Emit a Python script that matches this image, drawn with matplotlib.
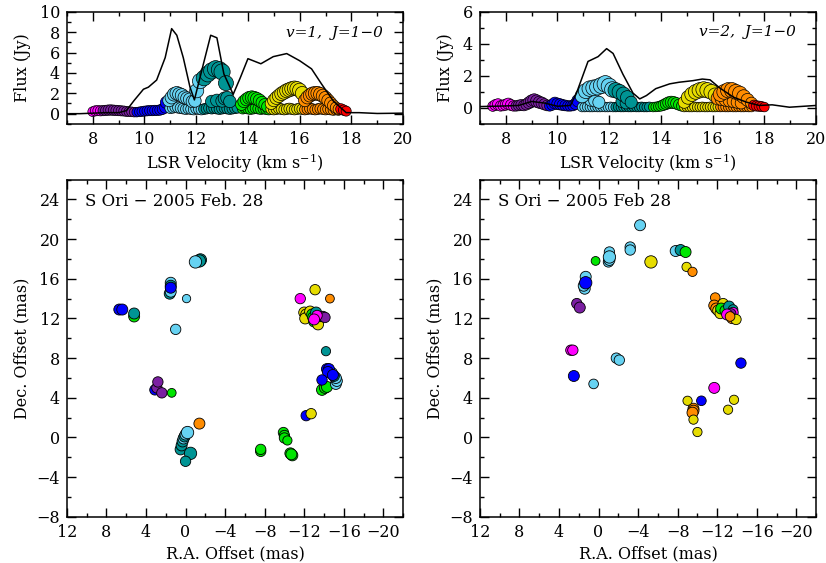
import numpy as np
import matplotlib
matplotlib.use('Agg')
import matplotlib.pyplot as plt
from matplotlib.ticker import MultipleLocator

plt.rcParams['font.family'] = ['DejaVu Serif']
plt.rcParams['mathtext.fontset'] = 'dejavuserif'

# velocity colour groups: magenta, purple, blue, light blue, teal, green, yellow, orange, red
colours = ['#ff00ff', '#7b1fa2', '#0000ff', '#66d2f2', '#009494',
           '#00e600', '#e6dc00', '#ff8c00', '#ff0000']

# total flux spectra (black lines)
v1_line_vel = [7.0, 7.5, 8.0, 8.5, 9.0, 9.3, 9.6, 9.96, 10.15, 10.47, 10.8, 11.05, 11.25,
               11.5, 11.76, 11.93, 12.28, 12.56, 12.8, 13.07, 13.43, 13.7, 14.0, 14.5,
               14.98, 15.5, 16.0, 16.46, 16.85, 17.3, 17.8, 18.3, 19.0, 20.0]
v1_line_flux = [0.0, 0.0, 0.05, 0.1, 0.1, 0.3, 1.3, 2.4, 2.6, 3.3, 5.5, 8.35, 7.7,
                5.5, 2.6, 1.35, 4.9, 7.7, 7.45, 3.9, 1.9, 3.5, 5.4, 4.9,
                5.6, 5.9, 5.2, 4.4, 2.9, 1.25, 0.1, 0.1, 0.02, 0.05]

v2_line_vel = [7.0, 7.5, 8.0, 8.5, 9.0, 9.5, 10.0, 10.5, 10.73, 11.18, 11.57, 11.9, 12.15,
               12.53, 12.92, 13.18, 13.44, 13.8, 14.34, 14.7, 15.24, 15.6, 15.9, 16.27,
               16.8, 17.3, 17.8, 18.3, 18.97, 20.0]
v2_line_flux = [0.08, 0.1, 0.12, 0.15, 0.4, 0.3, 0.1, 0.15, 0.9, 2.9, 3.2, 3.7, 3.4,
                2.1, 0.92, 0.56, 0.77, 1.2, 1.5, 1.6, 1.7, 1.8, 1.75, 1.25,
                0.67, 0.36, 0.15, 0.19, 0.04, 0.15]

# maser spots in the spectra: velocity, flux, colour group
v1_vel = ([8.0, 8.1, 8.2, 8.3] +
          [8.4, 8.5, 8.6, 8.7, 8.8, 8.9, 9.0, 9.1, 9.2, 9.3, 9.4, 9.5, 9.6] +
          [9.7, 9.8, 9.9, 10.0, 10.1, 10.2, 10.3, 10.4, 10.5, 10.6, 10.7, 10.8, 10.85] +
          [11.0, 11.1, 11.2, 11.3, 11.4, 11.5, 11.6, 11.7, 11.8, 11.9, 12.0, 12.1, 12.2] +
          [10.95, 11.05, 11.15, 11.25, 11.35, 11.45, 11.55, 11.65, 11.75, 11.85, 11.95, 12.02, 12.15] +
          [12.3, 12.4, 12.5, 12.6, 12.7, 12.8, 12.9, 13.0, 13.1, 13.2, 13.3, 13.4, 13.5, 13.6] +
          [12.6, 12.8, 13.0, 13.1, 13.2, 13.3] +
          [12.3, 12.45, 12.6, 12.75, 12.9, 13.0, 13.15] +
          [13.8, 13.9, 14.0, 14.1, 14.2, 14.3, 14.4, 14.5, 14.6, 14.7, 14.8] +
          [13.75, 13.85, 13.95, 14.05, 14.15, 14.25, 14.35, 14.45, 14.55, 14.65, 14.75] +
          [14.9, 15.0, 15.1, 15.2, 15.3, 15.4, 15.5, 15.6, 15.7, 15.8, 15.9, 16.0, 16.1] +
          [14.9, 15.0, 15.1, 15.2, 15.3, 15.4, 15.5, 15.6, 15.7, 15.8, 15.9, 16.0, 16.1] +
          [16.2, 16.3, 16.4, 16.5, 16.6, 16.7, 16.8, 16.9, 17.0, 17.1, 17.2, 17.3, 17.4, 17.5] +
          [16.2, 16.3, 16.4, 16.5, 16.6, 16.7, 16.8, 16.9, 17.0, 17.1, 17.2, 17.3, 17.4, 17.5] +
          [17.6, 17.7, 17.8])
v1_flux = ([0.20, 0.28, 0.30, 0.28] +
           [0.30, 0.32, 0.35, 0.36, 0.34, 0.32, 0.30, 0.28, 0.26, 0.22, 0.20, 0.18, 0.15] +
           [0.15, 0.18, 0.22, 0.25, 0.28, 0.30, 0.30, 0.32, 0.32, 0.36, 0.45, 0.60, 1.10] +
           [0.55, 0.6, 0.65, 0.6, 0.55, 0.5, 0.45, 0.5, 0.45, 0.4, 0.5, 0.45, 0.4] +
           [1.3, 1.6, 1.9, 2.0, 1.9, 1.8, 1.6, 1.5, 1.4, 1.2, 1.25, 2.25, 3.2] +
           [0.45, 0.5, 0.55, 0.5, 0.55, 0.5, 0.45, 0.5, 0.55, 0.5, 0.45, 0.5, 0.55, 0.6] +
           [1.2, 1.3, 1.25, 1.5, 1.55, 1.2] +
           [3.5, 3.9, 4.2, 4.4, 4.3, 4.1, 3.0] +
           [0.5, 0.55, 0.5, 0.45, 0.5, 0.55, 0.5, 0.45, 0.5, 0.45, 0.4] +
           [0.9, 1.2, 1.4, 1.55, 1.6, 1.55, 1.45, 1.3, 1.1, 0.9, 0.7] +
           [0.45, 0.4, 0.45, 0.5, 0.45, 0.4, 0.45, 0.5, 0.45, 0.4, 0.45, 0.5, 0.45] +
           [1.0, 1.3, 1.55, 1.75, 1.95, 2.1, 2.25, 2.35, 2.45, 2.5, 2.45, 2.3, 2.0] +
           [0.4, 0.45, 0.5, 0.45, 0.4, 0.45, 0.5, 0.45, 0.4, 0.45, 0.4, 0.35, 0.4, 0.35] +
           [1.3, 1.6, 1.8, 1.95, 2.0, 2.0, 1.9, 1.75, 1.55, 1.3, 1.05, 0.8, 0.6, 0.45] +
           [0.45, 0.35, 0.25])
v1_grp = ([0] * 4 + [1] * 13 + [2] * 13 + [3] * 26 + [4] * 27 + [5] * 22 +
          [6] * 26 + [7] * 28 + [8] * 3)

v2_vel = ([7.5, 7.6, 7.7, 7.8, 7.9, 8.0, 8.1, 8.2, 8.3] +
          [8.4, 8.5, 8.6, 8.7, 8.8, 8.9, 9.0, 9.1, 9.2, 9.3, 9.4, 9.5, 9.6] +
          [9.7, 9.8, 9.9, 10.0, 10.1, 10.2, 10.3, 10.4, 10.5, 10.6, 10.7, 10.8] +
          [10.95, 11.05, 11.15, 11.25, 11.35, 11.45, 11.55, 11.65, 11.75, 11.85, 11.95, 12.05, 12.15] +
          [11.3, 11.45, 11.6] +
          [10.95, 11.1, 11.25, 11.4, 11.55, 11.7, 11.85, 12.0, 12.12] +
          [12.25, 12.35, 12.45, 12.55, 12.65, 12.75, 12.85, 12.95, 13.05, 13.15, 13.25, 13.35, 13.45, 13.55] +
          [12.5, 12.65] +
          [12.25, 12.4, 12.55, 12.7, 12.85] +
          [13.7, 13.8, 13.9, 14.0, 14.1, 14.2, 14.3, 14.4, 14.5, 14.6, 14.7, 14.8] +
          [14.9, 15.0, 15.1, 15.2, 15.3, 15.4, 15.5, 15.6, 15.7, 15.8, 15.9, 16.0, 16.1, 16.2] +
          [14.9, 15.05, 15.2, 15.35, 15.5, 15.65, 15.8, 15.95, 16.1] +
          [16.3, 16.4, 16.5, 16.6, 16.7, 16.8, 16.9, 17.0, 17.1, 17.2, 17.3, 17.4, 17.5] +
          [16.2, 16.35, 16.5, 16.65, 16.8, 16.95, 17.1] +
          [16.3, 16.45, 16.6, 16.75, 16.9, 17.05, 17.2, 17.35, 17.5] +
          [17.6, 17.7, 17.8, 17.9, 18.0])
v2_flux = ([0.10, 0.18, 0.22, 0.12, 0.15, 0.20, 0.25, 0.18, 0.12] +
           [0.12, 0.15, 0.18, 0.15, 0.22, 0.32, 0.42, 0.48, 0.42, 0.35, 0.30, 0.22, 0.15] +
           [0.12, 0.20, 0.30, 0.25, 0.22, 0.18, 0.15, 0.12, 0.12, 0.15, 0.25, 0.45] +
           [0.05, 0.05, 0.06, 0.05, 0.05, 0.06, 0.05, 0.05, 0.06, 0.05, 0.05, 0.06, 0.05] +
           [0.5, 0.45, 0.35] +
           [0.75, 1.05, 1.2, 1.25, 1.3, 1.4, 1.5, 1.35, 1.15] +
           [0.05, 0.06, 0.05, 0.05, 0.06, 0.05, 0.05, 0.06, 0.05, 0.05, 0.06, 0.05, 0.05, 0.06] +
           [0.4, 0.3] +
           [1.1, 1.0, 0.85, 0.65, 0.35] +
           [0.05, 0.06, 0.08, 0.12, 0.18, 0.25, 0.32, 0.35, 0.33, 0.28, 0.2, 0.12] +
           [0.05, 0.06, 0.05, 0.05, 0.06, 0.05, 0.05, 0.06, 0.05, 0.05, 0.06, 0.05, 0.05, 0.06] +
           [0.35, 0.65, 0.85, 1.0, 1.1, 1.15, 1.1, 1.0, 0.8] +
           [0.05, 0.06, 0.05, 0.05, 0.06, 0.05, 0.05, 0.06, 0.05, 0.05, 0.06, 0.05, 0.05] +
           [0.6, 0.55, 0.5, 0.45, 0.4, 0.35, 0.3] +
           [0.85, 1.0, 1.1, 1.1, 1.0, 0.9, 0.7, 0.5, 0.3] +
           [0.15, 0.12, 0.1, 0.08, 0.05])
v2_grp = ([0] * 9 + [1] * 13 + [2] * 12 + [3] * 25 + [4] * 21 + [5] * 12 +
          [6] * 23 + [7] * 29 + [8] * 5)

# spot maps: RA offset, Dec offset, colour group, relative flux
v1_ra = [6.7, 6.4, 5.2, 5.2, 1.6, 1.5, 1.5, 1.5, 1.5, -0.1, 1.0, -1.5, -1.4, -1.0,
         3.1, 2.9, 2.8, 2.4, 1.4,
         0.5, 0.4, 0.3, 0.2, 0.1, 0.0, -0.2, -0.5, 0.0, -1.4,
         -7.6, -7.6, -9.9, -10.0, -10.0, -10.3, -10.6, -10.8, -10.7,
         -12.2, -12.7, -11.6, -13.1, -14.6,
         -12.0, -12.2, -12.4, -12.1, -12.6, -12.8, -12.9, -13.2, -13.0, -13.4,
         -13.5, -13.7, -13.9, -14.1, -13.3, -13.0, -14.2,
         -13.8, -14.1, -14.3, -15.2, -15.3, -15.2, -15.0, -14.8, -14.3, -14.5, -14.4, -14.9, -13.8]
v1_dec = [12.9, 12.9, 12.2, 12.5, 14.5, 14.7, 15.6, 15.3, 15.1, 14.0, 10.9, 17.9, 17.8, 17.7,
          4.8, 5.0, 5.6, 4.5, 4.5,
          -1.2, -0.8, -0.4, -0.1, 0.1, 0.3, 0.5, -1.6, -2.4, 1.4,
          -1.4, -1.2, 0.5, 0.2, -0.05, -0.3, -1.6, -1.8, -1.7,
          2.2, 2.4, 14.0, 14.9, 14.0,
          12.6, 12.4, 12.2, 12.0, 12.7, 12.4, 12.1, 12.6, 11.7, 11.4,
          12.2, 12.2, 12.2, 12.1, 12.3, 11.9, 8.7,
          4.8, 5.0, 5.1, 5.4, 5.7, 6.0, 6.2, 6.5, 6.9, 6.9, 6.6, 6.3, 5.8]
v1_mgrp = [2, 2, 5, 4, 4, 3, 3, 4, 2, 3, 3, 4, 4, 3,
           2, 1, 1, 1, 5,
           4, 4, 4, 3, 4, 3, 3, 4, 4, 7,
           5, 5, 5, 5, 5, 5, 5, 5, 5,
           2, 6, 0, 6, 7,
           6, 6, 5, 6, 6, 5, 5, 4, 5, 6,
           1, 1, 1, 1, 0, 0, 4,
           5, 5, 5, 3, 3, 3, 4, 3, 2, 2, 2, 2, 2]
v1_mflux = [1.0, 1.0, 1.0, 1.0, 1.0, 1.0, 1.0, 1.0, 1.0, 0.3, 0.8, 1.5, 1.5, 1.5,
            0.8, 0.8, 0.8, 0.8, 0.4,
            1.0, 1.0, 1.0, 1.0, 1.0, 1.0, 1.5, 1.5, 0.8, 1.0,
            0.8, 0.8, 0.8, 0.8, 0.8, 0.5, 1.0, 1.0, 1.0,
            0.8, 0.8, 0.8, 0.8, 0.4,
            1.0, 1.0, 1.0, 1.0, 1.0, 1.0, 1.0, 1.0, 1.0, 1.0,
            0.8, 0.8, 0.8, 0.8, 0.8, 1.0, 0.5,
            1.0, 1.0, 1.0, 1.0, 1.0, 1.0, 1.0, 1.0, 1.0, 1.0, 1.0, 1.0, 0.8]

v2_ra = [-4.2, -3.2, -3.2, -1.1, -1.0, -1.1, -1.1, 0.3, -5.3, -7.8, -8.3, -8.8, -8.9, -9.5,
         1.3, 1.4, 1.5, 1.3, 2.2, 1.9, 2.8, 2.6, 2.5, 0.5, -1.8, -2.1,
         -9.6, -9.6, -9.5, -9.0, -9.6, -10.0, -10.4, -11.7, -13.1, -13.7, -14.4,
         -11.8, -11.7, -11.9, -12.1, -12.3, -12.6, -12.4, -12.8, -13.2, -13.6, -13.6, -13.4,
         -13.0, -13.5, -13.9, -13.3]
v2_dec = [21.4, 19.2, 18.9, 18.7, 17.7, 17.9, 18.2, 17.8, 17.7, 18.8, 18.9, 18.7, 17.2, 16.7,
          16.2, 15.0, 15.3, 15.6, 13.5, 13.1, 8.8, 8.8, 6.2, 5.4, 8.0, 7.8,
          2.9, 2.7, 2.5, 3.7, 1.8, 0.55, 3.7, 5.0, 2.8, 3.8, 7.5,
          14.1, 13.3, 13.0, 12.8, 12.5, 13.5, 13.0, 12.8, 13.2, 12.9, 12.6, 12.5,
          12.4, 12.0, 11.9, 12.2]
v2_mgrp = [3, 3, 3, 3, 3, 3, 3, 5, 6, 3, 4, 5, 6, 7,
           3, 3, 3, 2, 1, 1, 0, 0, 2, 3, 3, 3,
           7, 7, 7, 6, 6, 6, 2, 0, 6, 6, 2,
           7, 7, 7, 6, 6, 6, 5, 5, 4, 4, 0, 1,
           0, 7, 6, 7]
v2_mflux = [1.0, 0.8, 0.8, 0.8, 0.8, 1.0, 1.5, 0.4, 1.5, 1.0, 1.0, 1.0, 0.5, 0.5,
            1.0, 1.0, 1.0, 1.5, 0.8, 1.0, 0.8, 0.8, 1.0, 0.6, 0.8, 0.8,
            1.0, 1.0, 1.0, 0.5, 0.5, 0.5, 0.6, 1.0, 0.5, 0.5, 0.8,
            0.6, 1.0, 1.0, 1.0, 0.8, 0.8, 1.0, 0.8, 1.0, 0.6, 0.8, 0.6,
            1.0, 0.8, 0.8, 0.6]


def style_axes(ax, xmaj, xmin, ymaj, ymin):
    ax.xaxis.set_major_locator(MultipleLocator(xmaj))
    ax.xaxis.set_minor_locator(MultipleLocator(xmin))
    ax.yaxis.set_major_locator(MultipleLocator(ymaj))
    ax.yaxis.set_minor_locator(MultipleLocator(ymin))
    ax.tick_params(which='both', direction='in', top=True, right=True, width=1.0,
                   labelsize=11.5)
    ax.tick_params(which='major', length=6.5, pad=5)
    ax.tick_params(which='minor', length=3.2)
    for sp in ax.spines.values():
        sp.set_linewidth(1.1)


def spectrum(ax, vel, flux, grp, lvel, lflux, ytop, label):
    flux = np.array(flux)
    diam = 8 + 8.5 * np.sqrt(flux / flux.max())   # pixels
    ax.scatter(vel, flux, s=(diam * 0.72) ** 2, c=[colours[g] for g in grp],
               edgecolors='k', linewidths=0.5, zorder=2)
    ax.plot(lvel, lflux, color='k', lw=1.1, zorder=3)
    ax.set_xlim(7, 20)
    ax.set_ylim(-1, ytop)
    style_axes(ax, 2, 1, 2, 1)
    ax.set_xlabel('LSR Velocity (km s$^{-1}$)', fontsize=11.5, labelpad=3)
    ax.set_ylabel('Flux (Jy)', fontsize=11.5, labelpad=6)
    ax.text(19.2, ytop * 0.79, label, ha='right', va='center', style='italic', fontsize=11)


def spot_map(ax, ra, dec, grp, mflux, title):
    diam = 5 + 6 * np.sqrt(np.array(mflux))
    ax.scatter(ra, dec, s=(diam * 0.72) ** 2, c=[colours[g] for g in grp],
               edgecolors='k', linewidths=0.6, zorder=2)
    ax.set_xlim(12, -22)
    ax.set_ylim(-8, 26)
    style_axes(ax, 4, 2, 4, 2)
    ax.set_xlabel('R.A. Offset (mas)', fontsize=11.5, labelpad=3)
    ax.set_ylabel('Dec. Offset (mas)', fontsize=11.5, labelpad=4)
    ax.text(10.2, 23.8, title, ha='left', va='center', fontsize=12)


fig = plt.figure(figsize=(8.26, 5.63), dpi=100)
ax1 = fig.add_axes([0.081, 0.780, 0.407, 0.199])
ax2 = fig.add_axes([0.581, 0.780, 0.407, 0.199])
ax3 = fig.add_axes([0.081, 0.082, 0.407, 0.599])
ax4 = fig.add_axes([0.581, 0.082, 0.407, 0.599])

spectrum(ax1, v1_vel, v1_flux, v1_grp, v1_line_vel, v1_line_flux, 10, 'v=1,  J=1\u22120')
spectrum(ax2, v2_vel, v2_flux, v2_grp, v2_line_vel, v2_line_flux, 6, 'v=2,  J=1\u22120')
spot_map(ax3, v1_ra, v1_dec, v1_mgrp, v1_mflux, 'S Ori \u2212 2005 Feb. 28')
spot_map(ax4, v2_ra, v2_dec, v2_mgrp, v2_mflux, 'S Ori \u2212 2005 Feb 28')

fig.savefig('out.png', dpi=100)
